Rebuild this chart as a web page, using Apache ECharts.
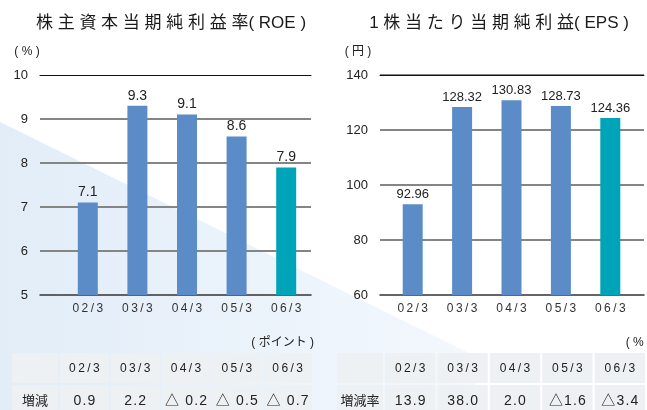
<!DOCTYPE html>
<html>
<head>
<meta charset="utf-8">
<script src="https://cdn.jsdelivr.net/npm/echarts@6/dist/echarts.min.js"></script>
<style>
  html, body { margin: 0; padding: 0; background: #fff; }
  #chart { width: 647px; height: 410px; }
</style>
</head>
<body>
<div id="chart"></div>
<script>
var categories = ['02/3', '03/3', '04/3', '05/3', '06/3'];
var roeValues = [7.1, 9.3, 9.1, 8.6, 7.9];
var epsValues = [92.96, 128.32, 130.83, 128.73, 124.36];
var roeChange = ['0.9', '2.2', '△ 0.2', '△ 0.5', '△ 0.7'];
var epsChange = ['13.9', '38.0', '2.0', '△1.6', '△3.4'];
var roeTicks = { min: 5, max: 10, interval: 1 };
var epsTicks = { min: 60, max: 140, interval: 20 };

var FONT = "'Liberation Sans', Arial, 'Noto Sans CJK JP', sans-serif";
var BLUE = '#5b8cc7';
var TEAL = '#00a4b8';

// letter spaced text
function spaced(s, sep) {
    return s.split('').join(sep || '\u2009');
}

var myChart = echarts.init(document.getElementById('chart'));

function barColor(p) {
    return p.dataIndex === categories.length - 1 ? TEAL : BLUE;
}

// grid lines: gray splits, dark top and bottom
function lineY(grid, ticks) {
    return {
        gridIndex: grid, type: 'value',
        min: ticks.min, max: ticks.max, interval: ticks.interval,
        axisLine: { show: false }, axisTick: { show: false },
        axisLabel: { fontSize: 13, color: '#222', margin: 12, fontFamily: FONT },
        splitLine: {
            lineStyle: {
                width: 2,
                color: ['rgba(0,0,0,0)', '#858585', '#858585', '#858585', '#858585', 'rgba(0,0,0,0)']
            }
        }
    };
}
function barY(grid, ticks) {
    return { gridIndex: grid, type: 'value', min: ticks.min, max: ticks.max, show: false, splitLine: { show: false } };
}
function edgeX(grid, pos, color, width) {
    return {
        gridIndex: grid, type: 'value', min: 0, max: 1, position: pos,
        axisLine: { show: true, lineStyle: { color: color, width: width } },
        axisTick: { show: false }, axisLabel: { show: false }, splitLine: { show: false }
    };
}
function catX(grid) {
    return {
        gridIndex: grid, type: 'category', data: categories,
        axisLine: { show: false }, axisTick: { show: false },
        axisLabel: {
            margin: 8, fontSize: 12, color: '#333', fontFamily: FONT,
            formatter: function (v) { return spaced(v); }
        }
    };
}

// tables under the charts
function table(x0, x1, rowName, values) {
    var els = [];
    var labelW = 46, gap = 2, top = 353, h = 30;
    var cellW = (x1 - x0 - labelW - gap * categories.length) / categories.length;
    var cols = [{ x: x0, w: labelW, head: '', body: rowName }];
    for (var i = 0; i < categories.length; i++) {
        cols.push({
            x: x0 + labelW + gap + i * (cellW + gap), w: cellW,
            head: spaced(categories[i]), body: spaced(values[i], '\u200A')
        });
    }
    cols.forEach(function (c, ci) {
        [{ y: top, t: c.head, size: 12 }, { y: top + h + gap, t: c.body, size: ci === 0 ? 13 : 14 }].forEach(function (r) {
            els.push({
                type: 'rect', z: 5,
                shape: { x: c.x, y: r.y, width: c.w, height: h },
                style: { fill: '#eef1f4' }
            });
            els.push({
                type: 'text', z: 6, x: c.x + c.w / 2, y: r.y + h / 2 + 1,
                style: {
                    text: r.t, fontSize: r.size, fontFamily: FONT, fill: '#222',
                    align: 'center', verticalAlign: 'middle',
                    textAlign: 'center', textVerticalAlign: 'middle'
                }
            });
        });
    });
    return els;
}

function unitText(text, x, y, align) {
    return {
        type: 'text', z: 6, x: x, y: y,
        style: {
            text: text, fontSize: 12, fontFamily: FONT, fill: '#222',
            align: align, verticalAlign: 'middle',
            textAlign: align, textVerticalAlign: 'middle'
        }
    };
}

var graphics = [{
    type: 'polygon', z: -10, silent: true,
    shape: { points: [[0, 122], [475, 356], [475, 410], [0, 410]] },
    style: {
        fill: new echarts.graphic.LinearGradient(0, 0, 1, 0, [
            { offset: 0, color: '#e2edf8' },
            { offset: 1, color: '#f3f8fd' }
        ])
    }
}];
graphics = graphics.concat(
    table(12, 312, '増減', roeChange),
    table(337, 645, '増減率', epsChange),
    [
        unitText('( % )', 27, 52, 'center'),
        unitText('( 円 )', 358, 52, 'center'),
        unitText('( ポイント )', 314, 343, 'right'),
        unitText('( % )', 651, 343, 'right')
    ]
);

var option = {
    animation: false,
    textStyle: { fontFamily: FONT },
    title: [
        {
            text: '株 主 資 本 当 期 純 利 益 率( ROE )',
            left: 166, top: 10, textAlign: 'center',
            textStyle: { fontSize: 17, fontWeight: 'normal', color: '#1a1a1a', fontFamily: FONT }
        },
        {
            text: '1 株 当 た り 当 期 純 利 益( EPS )',
            left: 494, top: 10, textAlign: 'center',
            textStyle: { fontSize: 17, fontWeight: 'normal', color: '#1a1a1a', fontFamily: FONT }
        }
    ],
    grid: [
        { left: 40, top: 75, width: 271, height: 220 },
        { left: 63, top: 75, width: 248, height: 220 },
        { left: 380, top: 75, width: 264, height: 220 },
        { left: 388, top: 75, width: 247, height: 220 }
    ],
    xAxis: [
        edgeX(0, 'bottom', '#333', 1.5),
        edgeX(0, 'top', '#111', 1),
        catX(1),
        edgeX(2, 'bottom', '#333', 1.5),
        edgeX(2, 'top', '#111', 1),
        catX(3)
    ],
    yAxis: [
        lineY(0, roeTicks),
        barY(1, roeTicks),
        lineY(2, epsTicks),
        barY(3, epsTicks)
    ],
    graphic: graphics,
    series: [
        {
            name: 'ROE', type: 'bar', xAxisIndex: 2, yAxisIndex: 1,
            barWidth: 20, data: roeValues,
            itemStyle: { color: barColor },
            label: {
                show: true, position: 'top', distance: 3,
                fontSize: 14, color: '#222', fontFamily: FONT,
                formatter: function (p) { return p.value.toFixed(1); }
            }
        },
        {
            name: 'EPS', type: 'bar', xAxisIndex: 5, yAxisIndex: 3,
            barWidth: 20, data: epsValues,
            itemStyle: { color: barColor },
            label: {
                show: true, position: 'top', distance: 3,
                fontSize: 13, color: '#222', fontFamily: FONT,
                formatter: function (p) { return p.value.toFixed(2); }
            }
        }
    ]
};

myChart.setOption(option);
window.addEventListener('resize', function () {
    myChart.resize();
});
</script>
</body>
</html>
